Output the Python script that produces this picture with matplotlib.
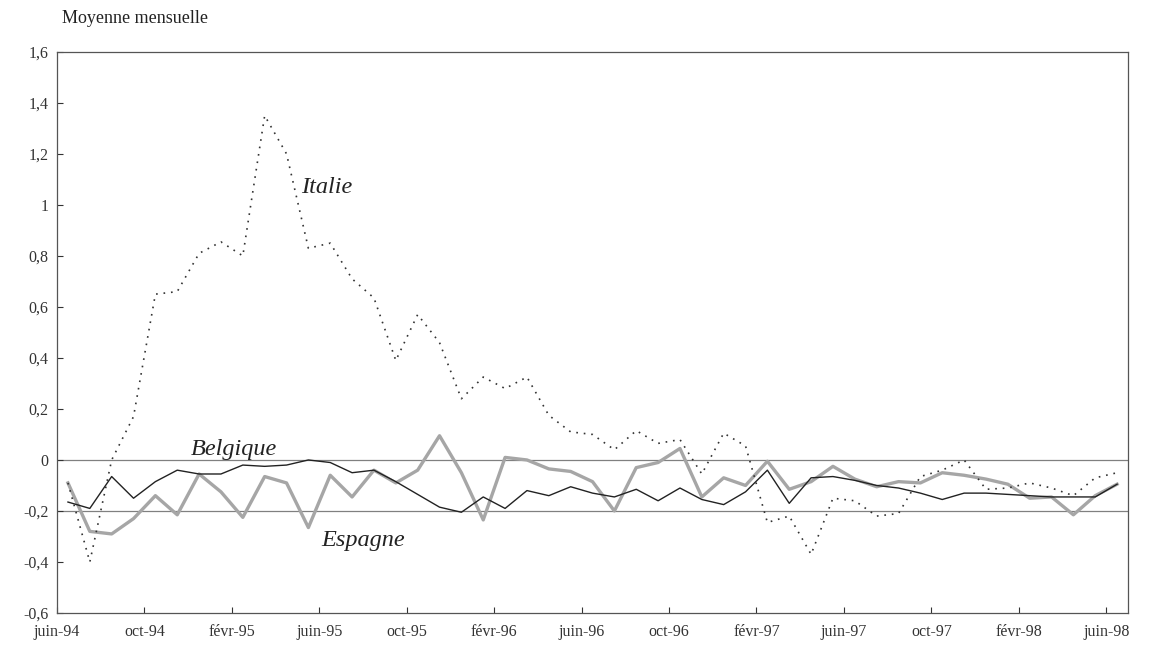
import matplotlib.pyplot as plt
import numpy as np

plt.rcParams['font.family'] = ['Liberation Serif', 'DejaVu Serif']

# Mois de juin-94 a juin-98 (49 points)
mois = ['juin-94', 'oct-94', 'févr-95', 'juin-95', 'oct-95', 'févr-96', 'juin-96',
        'oct-96', 'févr-97', 'juin-97', 'oct-97', 'févr-98', 'juin-98']

italie = [-0.09, -0.40, 0.00, 0.17, 0.65, 0.66, 0.81, 0.855, 0.80, 1.35,
          1.20, 0.83, 0.85, 0.71, 0.635, 0.39, 0.57, 0.46, 0.24, 0.325,
          0.28, 0.325, 0.175, 0.11, 0.10, 0.04, 0.115, 0.065, 0.08, -0.055,
          0.105, 0.055, -0.245, -0.22, -0.37, -0.15, -0.16, -0.22, -0.21, -0.065,
          -0.04, 0.00, -0.115, -0.11, -0.09, -0.11, -0.14, -0.07, -0.05]

belgique = [-0.165, -0.19, -0.065, -0.15, -0.085, -0.04, -0.055, -0.055, -0.02, -0.025,
            -0.02, 0.00, -0.01, -0.05, -0.04, -0.085, -0.135, -0.185, -0.205, -0.145,
            -0.19, -0.12, -0.14, -0.105, -0.13, -0.145, -0.115, -0.16, -0.11, -0.155,
            -0.175, -0.125, -0.04, -0.17, -0.07, -0.065, -0.08, -0.10, -0.11, -0.13,
            -0.155, -0.13, -0.13, -0.135, -0.14, -0.145, -0.145, -0.145, -0.095]

espagne = [-0.09, -0.28, -0.29, -0.23, -0.14, -0.215, -0.055, -0.125, -0.225, -0.065,
           -0.09, -0.265, -0.06, -0.145, -0.04, -0.09, -0.04, 0.095, -0.05, -0.235,
           0.01, 0.00, -0.035, -0.045, -0.085, -0.20, -0.03, -0.01, 0.045, -0.145,
           -0.07, -0.10, -0.005, -0.115, -0.085, -0.025, -0.075, -0.105, -0.085, -0.09,
           -0.05, -0.06, -0.075, -0.095, -0.15, -0.145, -0.215, -0.14, -0.095]

x = np.arange(len(italie))

fig = plt.figure(figsize=(11.52, 6.48), dpi=100)
ax = fig.add_axes([0.0495, 0.054, 0.9297, 0.866])

ax.axhline(0, color='#808080', lw=0.9, zorder=1)
ax.axhline(-0.2, color='#808080', lw=0.9, zorder=1)

ax.plot(x, espagne, color='#a6a6a6', lw=2.4, zorder=2)
ax.plot(x, belgique, color='#222222', lw=1.0, zorder=3)
ax.plot(x, italie, color='#333333', lw=1.2, linestyle=(0, (1, 3.5)), zorder=4)

ax.set_xlim(-0.5, 48.5)
ax.set_ylim(-0.6, 1.6)

ax.set_xticks(np.arange(-0.5, 48, 4))
ax.set_xticklabels(mois)
yt = np.arange(-0.6, 1.61, 0.2)
ax.set_yticks(yt)
ax.set_yticklabels([('%g' % round(v, 1)).replace('.', ',') for v in yt])
ax.tick_params(axis='both', direction='in', length=4, width=0.8, labelsize=11.5, colors='#333333')
ax.tick_params(axis='x', pad=8)
ax.tick_params(axis='y', pad=6)

for s in ax.spines.values():
    s.set_color('#555555')
    s.set_linewidth(0.9)

ax.text(10.67, 1.07, 'Italie', style='italic', fontsize=17.5, color='#222222', va='center')
ax.text(5.63, 0.04, 'Belgique', style='italic', fontsize=17.5, color='#222222', va='center')
ax.text(11.6, -0.315, 'Espagne', style='italic', fontsize=17.5, color='#222222', va='center')

fig.text(0.054, 0.972, 'Moyenne mensuelle', fontsize=13, va='center', color='#222222')

fig.savefig('out.png', dpi=100)
